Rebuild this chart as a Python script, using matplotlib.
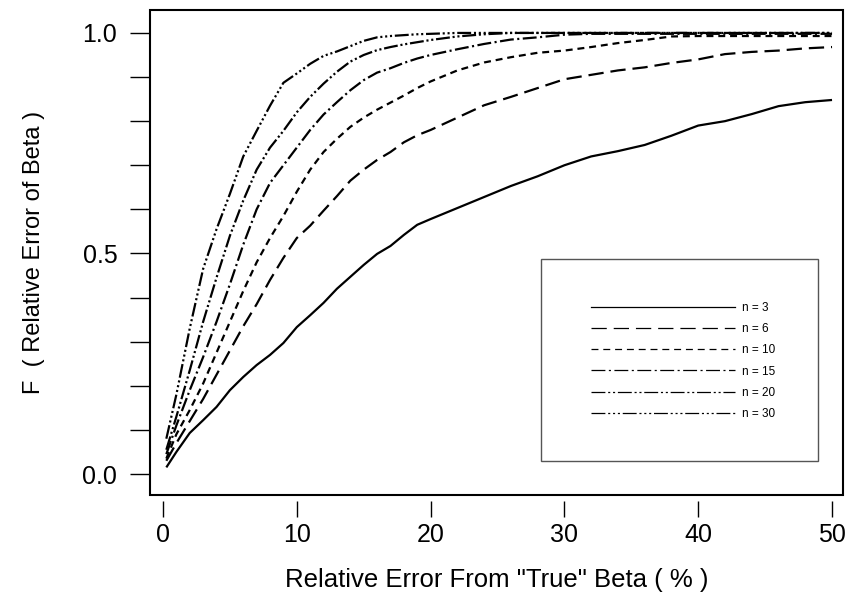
import matplotlib
matplotlib.use("Agg")
import matplotlib.pyplot as plt
from matplotlib.lines import Line2D
from matplotlib.patches import Rectangle

plt.rcParams['font.family'] = ['Liberation Sans', 'DejaVu Sans']
plt.rcParams['lines.scale_dashes'] = False

x = [0.25, 1, 2, 3, 4, 5, 6, 7, 8, 9, 10, 11, 12, 13, 14, 15, 16, 17, 18, 19, 20,
     22, 24, 26, 28, 30, 32, 34, 36, 38, 40, 42, 44, 46, 48, 50]

n3 = [0.015, 0.05, 0.093, 0.122, 0.152, 0.19, 0.22, 0.247, 0.27, 0.297, 0.333, 0.36,
      0.388, 0.42, 0.447, 0.474, 0.499, 0.517, 0.542, 0.565, 0.578,
      0.603, 0.628, 0.653, 0.675, 0.70, 0.72, 0.732, 0.746, 0.767, 0.79, 0.80,
      0.816, 0.834, 0.843, 0.848]
n6 = [0.03, 0.07, 0.12, 0.17, 0.225, 0.28, 0.335, 0.385, 0.44, 0.49, 0.535, 0.563,
      0.597, 0.63, 0.665, 0.69, 0.712, 0.73, 0.752, 0.768, 0.78,
      0.808, 0.836, 0.855, 0.875, 0.895, 0.905, 0.915, 0.922, 0.932, 0.94, 0.952,
      0.957, 0.96, 0.965, 0.968]
n10 = [0.035, 0.09, 0.145, 0.205, 0.275, 0.345, 0.415, 0.48, 0.535, 0.585, 0.64, 0.69,
       0.73, 0.76, 0.787, 0.808, 0.826, 0.842, 0.858, 0.875, 0.89,
       0.915, 0.933, 0.945, 0.955, 0.96, 0.968, 0.977, 0.984, 0.992, 0.993, 0.993,
       0.993, 0.993, 0.993, 0.993]
n15 = [0.045, 0.11, 0.19, 0.265, 0.345, 0.43, 0.52, 0.60, 0.66, 0.70, 0.74, 0.78,
       0.815, 0.843, 0.87, 0.893, 0.91, 0.92, 0.932, 0.942, 0.95,
       0.963, 0.975, 0.985, 0.99, 0.996, 0.998, 0.998, 0.998, 0.998, 0.998, 0.998,
       0.998, 0.998, 0.998, 0.998]
n20 = [0.055, 0.13, 0.235, 0.345, 0.445, 0.54, 0.62, 0.69, 0.74, 0.778, 0.82, 0.855,
       0.885, 0.912, 0.935, 0.95, 0.961, 0.968, 0.974, 0.979, 0.984,
       0.992, 0.997, 1.0, 1.0, 1.0, 1.0, 1.0, 1.0, 1.0, 1.0, 1.0,
       1.0, 1.0, 1.0, 1.0]
n30 = [0.08, 0.18, 0.33, 0.465, 0.555, 0.635, 0.72, 0.778, 0.835, 0.887, 0.908, 0.93,
       0.948, 0.958, 0.97, 0.982, 0.99, 0.993, 0.995, 0.997, 0.998,
       1.0, 1.0, 1.0, 1.0, 1.0, 1.0, 1.0, 1.0, 1.0, 1.0, 1.0,
       1.0, 1.0, 1.0, 1.0]

labels = ["n = 3", "n = 6", "n = 10", "n = 15", "n = 20", "n = 30"]
series = [n3, n6, n10, n15, n20, n30]
dashes = [None,
          (0, (11, 5)),
          (0, (5, 3.5)),
          (0, (10, 2.5, 1.5, 2.5)),
          (0, (10, 2, 1.5, 2, 1.5, 2)),
          (0, (10, 2, 1.5, 2, 1.5, 2, 1.5, 2))]

fig = plt.figure(figsize=(8.48, 5.94), dpi=100)
ax = fig.add_axes([150/848, (594-495)/594, 693/848, 485/594])

for y, d in zip(series, dashes):
    ls = '-' if d is None else d
    ax.plot(x, y, color='black', lw=1.6, linestyle=ls, solid_capstyle='butt',
            dash_capstyle='butt')

ax.set_xlim(-0.97, 50.82)
ax.set_ylim(-0.0476, 1.052)

for s in ax.spines.values():
    s.set_visible(False)
ax.spines['bottom'].set_position(('outward', 4))
ax.add_patch(Rectangle((0, 0), 1, 1, transform=ax.transAxes, fill=False,
                       edgecolor='black', lw=1.5, clip_on=False, zorder=5))

ax.set_xticks([0, 10, 20, 30, 40, 50])
yt = [i / 10 for i in range(11)]
ax.set_yticks(yt)
ax.set_yticklabels(["0.0" if v == 0 else "0.5" if abs(v - 0.5) < 1e-9 else "1.0" if v == 1.0 else "" for v in yt])
ax.tick_params(axis='x', direction='out', length=11.5, width=1, pad=5, labelsize=18)
ax.tick_params(axis='y', direction='out', length=14.5, width=1, pad=9, labelsize=18)

ax.set_xlabel('Relative Error From "True" Beta ( % )', fontsize=18.5, labelpad=14.5)
ax.set_ylabel('F  ( Relative Error of Beta )', fontsize=17, labelpad=27)

# legend box
bx0, bx1 = (541-150)/693, (818-150)/693
by0, by1 = (495-461)/485, (495-259)/485
ax.add_patch(Rectangle((bx0, by0), bx1-bx0, by1-by0, transform=ax.transAxes,
                       fill=False, edgecolor='#555555', lw=1.0, zorder=6))
handles = []
for d in dashes:
    ls = '-' if d is None else d
    handles.append(Line2D([], [], color='black', lw=0.9, linestyle=ls))
leg = ax.legend(handles, labels, loc='center',
                bbox_to_anchor=((bx0+bx1)/2 + 0.005, (by0+by1)/2 - 0.002),
                frameon=False, fontsize=8.5, handlelength=12.2,
                labelspacing=0.78, handletextpad=0.6)
leg.set_zorder(7)

fig.savefig('out.png', dpi=100)
